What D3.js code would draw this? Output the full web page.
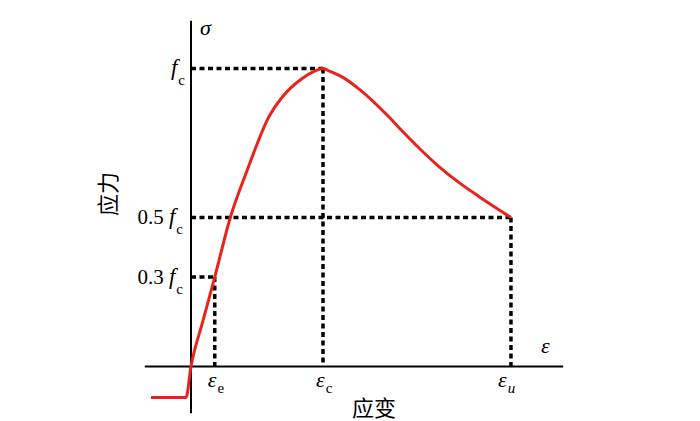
<!DOCTYPE html>
<html>
<head>
<meta charset="utf-8">
<script src="https://cdn.jsdelivr.net/npm/d3@7"></script>
<style>
  html, body { margin: 0; padding: 0; background: #fff; }
  svg { display: block; }
  .serif { font-family: "Liberation Serif", "DejaVu Serif", serif; fill: #000; }
  .cjk { font-family: "Noto Sans CJK SC", sans-serif; fill: #000; }
</style>
</head>
<body>
<svg id="chart" width="700" height="421"></svg>
<script>
// strain in units of ε_c, stress in units of f_c
const strain = [-0.303, -0.038, 0.0, 0.09, 0.18, 0.298, 0.427, 0.504, 0.58, 0.695, 0.832, 0.931, 1.0, 1.053, 1.144, 1.29, 1.496, 1.611, 1.725, 1.878, 2.031, 2.183, 2.424];
const stress = [-0.104, -0.104, 0.0, 0.152, 0.30, 0.50, 0.66, 0.75, 0.829, 0.906, 0.963, 0.99, 1.0, 0.99, 0.972, 0.925, 0.839, 0.785, 0.734, 0.671, 0.617, 0.57, 0.50];

// key points
const keyStrain = [0.18, 1.0, 2.424];
const keyStress = [0.30, 1.0, 0.50];
const strainSubs = ["e", "c", "u"];
const stressPrefix = ["0.3 ", "", "0.5 "];

const svg = d3.select("#chart");
const x = d3.scaleLinear().domain([0, 1]).range([191, 323]);
const y = d3.scaleLinear().domain([0, 1]).range([366.5, 68.5]);

const xMin = -0.35, xMax = 2.82;
const yMin = -0.157, yMax = 1.16;

// dashed guide lines
const g = svg.append("g");
keyStrain.forEach((s, i) => {
  const st = keyStress[i];
  g.append("line")
    .attr("x1", x(0)).attr("x2", x(s))
    .attr("y1", y(st)).attr("y2", y(st))
    .attr("stroke", "#000").attr("stroke-width", 3.5)
    .attr("stroke-dasharray", "5,3.5");
  g.append("line")
    .attr("x1", x(s)).attr("x2", x(s))
    .attr("y1", y(st)).attr("y2", y(0))
    .attr("stroke", "#000").attr("stroke-width", 3.5)
    .attr("stroke-dasharray", "5,3.5");
});

// axes
svg.append("line")
  .attr("x1", x(xMin)).attr("x2", x(xMax))
  .attr("y1", y(0)).attr("y2", y(0))
  .attr("stroke", "#000").attr("stroke-width", 2);
svg.append("line")
  .attr("x1", x(0)).attr("x2", x(0))
  .attr("y1", y(yMax)).attr("y2", y(yMin))
  .attr("stroke", "#000").attr("stroke-width", 2);

// curve
const pts = strain.map((s, i) => [s, stress[i]]);
svg.append("path")
  .datum(pts)
  .attr("d", d3.line().x(d => x(d[0])).y(d => y(d[1])).curve(d3.curveMonotoneX))
  .attr("fill", "none")
  .attr("stroke", "#e8231c")
  .attr("stroke-width", 3)
  .attr("stroke-linejoin", "round");

// stress labels (y side)
keyStress.forEach((st, i) => {
  const t = svg.append("text").attr("class", "serif")
    .attr("x", i === 1 ? 185 : 183)
    .attr("y", y(st) + 6.5)
    .attr("text-anchor", "end")
    .style("font-size", "21px");
  if (stressPrefix[i]) t.append("tspan").text(stressPrefix[i]);
  t.append("tspan").attr("font-style", "italic").style("font-size", "23px").text("f");
  t.append("tspan").attr("dy", 10).attr("dx", 1).style("font-size", "15px").text("c");
});

// strain labels (x side)
keyStrain.forEach((s, i) => {
  const t = svg.append("text").attr("class", "serif")
    .attr("x", x(s) - (i === 2 ? 13 : 7))
    .attr("y", y(0) + 20)
    .style("font-size", "22px");
  t.append("tspan").attr("font-style", "italic").text("ε");
  t.append("tspan").attr("dy", 6).attr("dx", 1).style("font-size", "15px")
    .attr("font-style", strainSubs[i] === "u" ? "italic" : "normal")
    .text(strainSubs[i]);
});

// axis symbols
svg.append("text").attr("class", "serif")
  .attr("x", 200).attr("y", 35)
  .attr("font-style", "italic").style("font-size", "22px").text("σ");
svg.append("text").attr("class", "serif")
  .attr("x", 541).attr("y", 353)
  .attr("font-style", "italic").style("font-size", "22px").text("ε");

// axis titles
svg.append("text").attr("class", "cjk")
  .attr("x", 374).attr("y", 416)
  .attr("text-anchor", "middle")
  .style("font-size", "22px").text("应变");
svg.append("text").attr("class", "cjk")
  .attr("transform", "translate(116,194) rotate(-90)")
  .attr("text-anchor", "middle")
  .style("font-size", "22px").text("应力");
</script>
</body>
</html>
